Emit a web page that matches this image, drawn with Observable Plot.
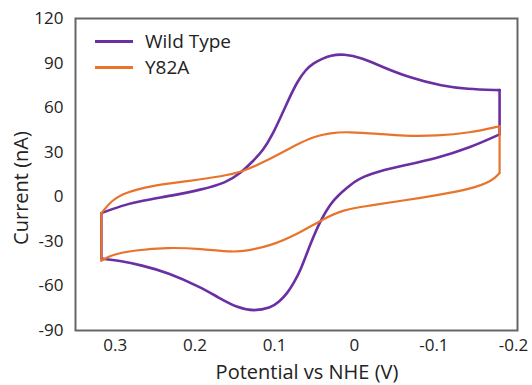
<!DOCTYPE html>
<html>
<head>
<meta charset="utf-8">
<script src="https://cdn.jsdelivr.net/npm/d3@7"></script>
<script src="https://cdn.jsdelivr.net/npm/@observablehq/plot@0.6"></script>
<style>
  html, body { margin: 0; padding: 0; background: #fff; }
  #wrap { position: relative; width: 532px; height: 385px; font-family: "Open Sans", sans-serif; color: #222; }
  #legend { position: absolute; left: 95px; top: 28px; font-size: 19px; }
  .row { display: flex; align-items: center; height: 26px; }
  .sw { width: 38px; height: 0; margin-right: 12px; }
  .title { position: absolute; font-size: 20px; white-space: nowrap; line-height: 1.2; }
  #xtitle { left: 307px; top: 372px; transform: translate(-50%, -50%); }
  #ytitle { left: 21px; top: 188px; transform: translate(-50%, -50%) rotate(-90deg); }
</style>
</head>
<body>
<div id="wrap"></div>
<script>
// Series names and colours
const seriesNames = ["Wild Type", "Y82A"];
const seriesColors = ["#6a2fa2", "#e8742c"];
const xTitle = "Potential vs NHE (V)";
const yTitle = "Current (nA)";

// Wild Type: forward sweep (upper branch) and reverse sweep (lower branch)
const wtFwdV = [0.3175, 0.2925, 0.2675, 0.23, 0.1925, 0.161, 0.1425, 0.128, 0.114, 0.103, 0.0925, 0.082, 0.071, 0.061, 0.051, 0.04, 0.03, 0.014, -0.011, -0.0325, -0.07, -0.111, -0.141, -0.1825];
const wtFwdI = [-11, -6, -2.7, 0.7, 4.7, 9.4, 16, 23.5, 31.5, 41.5, 53.5, 66, 78, 85.5, 90, 93, 95, 96.3, 93.3, 88, 80, 74.5, 72.5, 71.8];
const wtRevV = [-0.1825, -0.145, -0.104, -0.061, -0.0325, -0.011, 0, 0.009, 0.02, 0.03, 0.0425, 0.055, 0.0675, 0.076, 0.084, 0.095, 0.105, 0.126, 0.146, 0.17, 0.1925, 0.234, 0.2675, 0.295, 0.3175];
const wtRevI = [42, 33, 26, 21, 17.5, 13.5, 10, 6, 1, -4.7, -16, -31.5, -49.7, -58, -65, -71, -74.8, -77, -74.8, -68, -61, -51, -46, -43, -41.6];

// Y82A
const ybFwdV = [0.3175, 0.305, 0.289, 0.255, 0.209, 0.164, 0.1425, 0.114, 0.071, 0.051, 0.03, 0.009, -0.0325, -0.061, -0.104, -0.145, -0.1825];
const ybFwdI = [-11, -2.7, 2.7, 7.5, 10.5, 14, 16.5, 23, 35.6, 40.5, 43, 43.8, 42.3, 41, 41, 43, 47.5];
const ybRevV = [-0.1825, -0.174, -0.145, -0.104, -0.061, -0.02, 0.014, 0.0425, 0.071, 0.105, 0.134, 0.151, 0.1925, 0.234, 0.276, 0.305, 0.3175];
const ybRevI = [16, 10.7, 5, 1, -2.5, -6, -8.5, -16, -25, -33, -36.2, -37.4, -35, -34, -36, -39, -43];

// Axis ticks
const xTicks = [0.3, 0.2, 0.1, 0, -0.1, -0.2];
const yTicks = [-90, -60, -30, 0, 30, 60, 90, 120];

function branches(name, fV, fI, rV, rI) {
  const rows = [];
  fV.forEach((v, k) => rows.push({series: name, seg: "fwd", v, i: fI[k]}));
  rV.forEach((v, k) => rows.push({series: name, seg: "rev", v, i: rI[k]}));
  return rows;
}
function connectors(name, fV, fI, rV, rI) {
  return [
    {series: name, seg: "right", v: fV[fV.length - 1], i: fI[fI.length - 1]},
    {series: name, seg: "right", v: rV[0], i: rI[0]},
    {series: name, seg: "left", v: rV[rV.length - 1], i: rI[rI.length - 1]},
    {series: name, seg: "left", v: fV[0], i: fI[0]}
  ];
}

const wtCurve = branches(seriesNames[0], wtFwdV, wtFwdI, wtRevV, wtRevI);
const wtConn = connectors(seriesNames[0], wtFwdV, wtFwdI, wtRevV, wtRevI);
const ybCurve = branches(seriesNames[1], ybFwdV, ybFwdI, ybRevV, ybRevI);
const ybConn = connectors(seriesNames[1], ybFwdV, ybFwdI, ybRevV, ybRevI);

const fmt = d => `${d}`;

const chart = Plot.plot({
  width: 532,
  height: 385,
  marginLeft: 75,
  marginRight: 15,
  marginTop: 18,
  marginBottom: 55,
  style: {fontFamily: "Open Sans, sans-serif", fontSize: "17px", color: "#222", background: "#fff"},
  x: {domain: [0.35, -0.205]},
  y: {domain: [-90, 120]},
  marks: [
    Plot.line(wtCurve, {x: "v", y: "i", z: "seg", stroke: seriesColors[0], strokeWidth: 2.6, curve: "basis"}),
    Plot.line(wtConn, {x: "v", y: "i", z: "seg", stroke: seriesColors[0], strokeWidth: 2.6}),
    Plot.line(ybCurve, {x: "v", y: "i", z: "seg", stroke: seriesColors[1], strokeWidth: 2.2, curve: "basis"}),
    Plot.line(ybConn, {x: "v", y: "i", z: "seg", stroke: seriesColors[1], strokeWidth: 2.2}),
    Plot.frame({stroke: "#666", strokeWidth: 2}),
    Plot.axisX({ticks: xTicks, tickFormat: fmt, tickSize: 0, tickPadding: 8, label: null, fontSize: 17}),
    Plot.axisY({ticks: yTicks, tickFormat: fmt, tickSize: 0, tickPadding: 12, label: null, fontSize: 17})
  ]
});

const wrap = document.getElementById("wrap");
wrap.appendChild(chart);

const xt = document.createElement("div");
xt.className = "title"; xt.id = "xtitle"; xt.textContent = xTitle;
wrap.appendChild(xt);
const yt = document.createElement("div");
yt.className = "title"; yt.id = "ytitle"; yt.textContent = yTitle;
wrap.appendChild(yt);

const legend = document.createElement("div");
legend.id = "legend";
seriesNames.forEach((n, k) => {
  const row = document.createElement("div");
  row.className = "row";
  const sw = document.createElement("div");
  sw.className = "sw";
  sw.style.borderTop = `3px solid ${seriesColors[k]}`;
  const t = document.createElement("span");
  t.textContent = n;
  row.appendChild(sw);
  row.appendChild(t);
  legend.appendChild(row);
});
wrap.appendChild(legend);
</script>
</body>
</html>
